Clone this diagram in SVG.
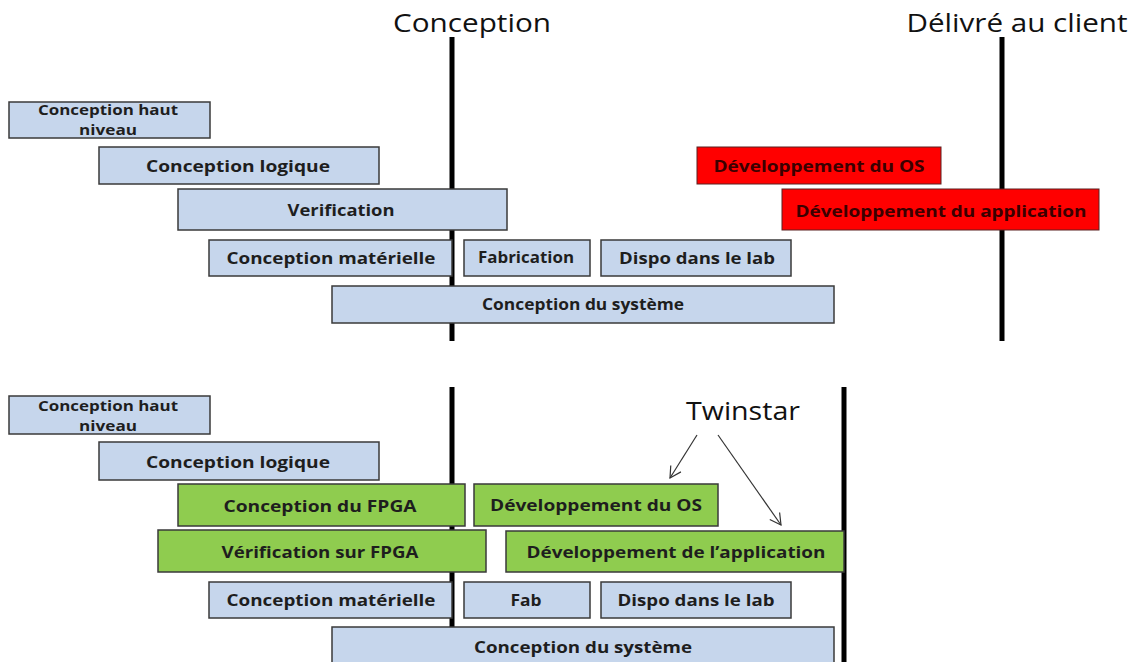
<svg xmlns="http://www.w3.org/2000/svg" width="1134" height="662" viewBox="0 0 1134 662">
<style>
.b{fill:#c6d6ec;stroke:#3a3a3a;stroke-width:1.5}
.g{fill:#8fcc4f;stroke:#3a3a3a;stroke-width:1.5}
.r{fill:#ff0000;stroke:#5a2020;stroke-width:1}
.t{font-family:"Open Sans","Liberation Sans",Arial,sans-serif;font-weight:bold;font-size:16.5px;fill:#1e1e1e;text-anchor:middle}
.s{font-size:14.5px}
.tr{fill:#3a0000}
.h{font-family:"Open Sans","Liberation Sans",sans-serif;font-size:25px;fill:#111;text-anchor:middle}
.v{stroke:#000;stroke-width:5}
.a{stroke:#333;stroke-width:1.2;fill:none}
</style>
<defs>
<marker id="ah" markerWidth="14" markerHeight="14" refX="12" refY="7" orient="auto" markerUnits="userSpaceOnUse">
<path d="M1,1 L12,7 L1,13" fill="none" stroke="#333" stroke-width="1.2"/>
</marker>
</defs>
<rect width="1134" height="662" fill="#fff"/>
<g id="timeline">
<line class="v" x1="452" y1="37" x2="452" y2="341"/>
<line class="v" x1="1002" y1="37" x2="1002" y2="341"/>
<line class="v" x1="452" y1="387" x2="452" y2="662"/>
<line class="v" x1="844" y1="387" x2="844" y2="662"/>
</g>
<g id="lbl-conception"><text class="h" x="472" y="32" textLength="158" lengthAdjust="spacingAndGlyphs">Conception</text></g>
<g id="lbl-delivre"><text class="h" x="1017" y="32" textLength="221" lengthAdjust="spacingAndGlyphs">Délivré au client</text></g>
<g id="lbl-twinstar"><text class="h" x="743" y="420" textLength="114" lengthAdjust="spacingAndGlyphs">Twinstar</text></g>

<g id="t1"><rect class="b" x="9" y="102" width="201" height="36"/><text class="t s" x="108" y="115" textLength="140" lengthAdjust="spacingAndGlyphs">Conception haut</text><text class="t s" x="108" y="135" textLength="58" lengthAdjust="spacingAndGlyphs">niveau</text></g>
<g id="t2"><rect class="b" x="99" y="147" width="280" height="37"/><text class="t" x="238" y="172" textLength="184" lengthAdjust="spacingAndGlyphs">Conception logique</text></g>
<g id="t3"><rect class="b" x="178" y="189" width="329" height="41"/><text class="t" x="341" y="216" textLength="107" lengthAdjust="spacingAndGlyphs">Verification</text></g>
<g id="t4"><rect class="b" x="209" y="240" width="243" height="36"/><text class="t" x="331" y="264" textLength="209" lengthAdjust="spacingAndGlyphs">Conception matérielle</text></g>
<g id="t5"><rect class="b" x="464" y="240" width="126" height="36"/><text class="t" x="526" y="263" textLength="96" lengthAdjust="spacingAndGlyphs">Fabrication</text></g>
<g id="t6"><rect class="b" x="601" y="240" width="190" height="36"/><text class="t" x="697" y="264" textLength="156" lengthAdjust="spacingAndGlyphs">Dispo dans le lab</text></g>
<g id="t7"><rect class="b" x="332" y="286" width="502" height="37"/><text class="t" x="583" y="310" textLength="202" lengthAdjust="spacingAndGlyphs">Conception du système</text></g>
<g id="t8"><rect class="r" x="697" y="147" width="244" height="37"/><text class="t tr" x="819" y="172" textLength="211" lengthAdjust="spacingAndGlyphs">Développement du OS</text></g>
<g id="t9"><rect class="r" x="782" y="189" width="317" height="41"/><text class="t tr" x="941" y="217" textLength="291" lengthAdjust="spacingAndGlyphs">Développement du application</text></g>

<g id="b1"><rect class="b" x="9" y="396" width="201" height="38"/><text class="t s" x="108" y="411" textLength="140" lengthAdjust="spacingAndGlyphs">Conception haut</text><text class="t s" x="108" y="431" textLength="58" lengthAdjust="spacingAndGlyphs">niveau</text></g>
<g id="b2"><rect class="b" x="99" y="442" width="280" height="38"/><text class="t" x="238" y="468" textLength="184" lengthAdjust="spacingAndGlyphs">Conception logique</text></g>
<g id="b3"><rect class="g" x="178" y="484" width="287" height="42"/><text class="t" x="320" y="512" textLength="193" lengthAdjust="spacingAndGlyphs">Conception du FPGA</text></g>
<g id="b4"><rect class="g" x="158" y="530" width="328" height="42"/><text class="t" x="320" y="558" textLength="197" lengthAdjust="spacingAndGlyphs">Vérification sur FPGA</text></g>
<g id="b5"><rect class="g" x="474" y="484" width="244" height="42"/><text class="t" x="596" y="511" textLength="212" lengthAdjust="spacingAndGlyphs">Développement du OS</text></g>
<g id="b6"><rect class="g" x="506" y="531" width="338" height="41"/><text class="t" x="676" y="558" textLength="299" lengthAdjust="spacingAndGlyphs">Développement de l’application</text></g>
<g id="b7"><rect class="b" x="209" y="582" width="243" height="36"/><text class="t" x="331" y="606" textLength="209" lengthAdjust="spacingAndGlyphs">Conception matérielle</text></g>
<g id="b8"><rect class="b" x="464" y="582" width="126" height="36"/><text class="t" x="526" y="606" textLength="31" lengthAdjust="spacingAndGlyphs">Fab</text></g>
<g id="b9"><rect class="b" x="601" y="582" width="190" height="36"/><text class="t" x="696" y="606" textLength="157" lengthAdjust="spacingAndGlyphs">Dispo dans le lab</text></g>
<g id="b10"><rect class="b" x="332" y="627" width="502" height="40"/><text class="t" x="583" y="653" textLength="218" lengthAdjust="spacingAndGlyphs">Conception du système</text></g>

<g id="connectors">
<line class="a" x1="697" y1="435" x2="670" y2="478" marker-end="url(#ah)"/>
<line class="a" x1="718" y1="435" x2="781" y2="525" marker-end="url(#ah)"/>
</g>
</svg>
